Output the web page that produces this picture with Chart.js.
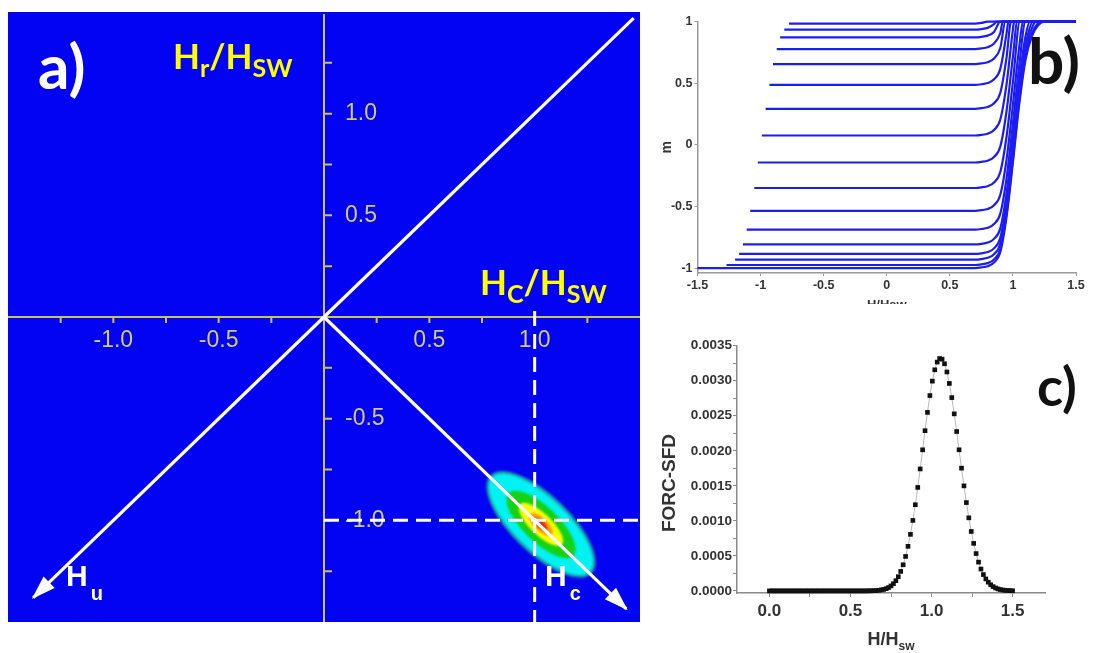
<!DOCTYPE html>
<html>
<head>
<meta charset="utf-8">
<script src="https://cdn.jsdelivr.net/npm/chart.js@4.4.1/dist/chart.umd.min.js"></script>
<style>
  html, body { margin: 0; padding: 0; background: #fff; }
  body { width: 1110px; height: 653px; position: relative; overflow: hidden; }
  #wrapA { position: absolute; left: 0; top: 0; }
  #wrapB { position: absolute; left: 650px; top: 0; width: 460px; height: 304px; overflow: hidden; }
  #wrapC { position: absolute; left: 650px; top: 305px; }
  canvas { display: block; }
</style>
</head>
<body>
<div id="wrapA"><canvas id="forcMap" width="650" height="653"></canvas></div>
<div id="wrapB"><canvas id="forcCurves" width="460" height="320"></canvas></div>
<div id="wrapC"><canvas id="sfdChart" width="460" height="348"></canvas></div>
<script>
// ---- a) FORC diagram (Hc/Hsw, Hr/Hsw) ----
const diagUp = [[0, 0], [1.47, 1.47]];
const arrowHu = [[0, 0], [-1.38, -1.38]];
const arrowHc = [[0, 0], [1.435, -1.435]];
const dashHc = [[1.0, 0.03], [1.0, -1.5]];
const dashHr = [[0, -1.0], [1.5, -1.0]];
const mapTicks = [-1.25, -1, -0.75, -0.5, -0.25, 0.25, 0.5, 0.75, 1, 1.25];
const mapXLabelVals = [-1, -0.5, 0.5, 1];
const mapXLabels = ['-1.0', '-0.5', '0.5', '1.0'];
const mapYLabelVals = [1, 0.5, -0.5, -1];
const mapYLabels = ['1.0', '0.5', '-0.5', '-1.0'];
// FORC density peak: centre and contour semi-axes (in field units)
const peakCenter = [1.03, -1.02];
const levelMajor = [0.335, 0.322, 0.214, 0.138, 0.071, 0.038];
const levelMinor = [0.138, 0.124, 0.083, 0.05, 0.031, 0.018];

// ---- b) first-order reversal curves (H/Hsw, m) ----
const forcBranches = [
  [[-0.775, 0.985], [0.70, 0.985], [0.75, 0.99], [0.80, 1.0], [1.5, 1.0]],
  [[-0.812, 0.935], [0.70, 0.935], [0.75, 0.94], [0.80, 0.95], [0.85, 0.98], [0.87, 1.0], [1.5, 1.0]],
  [[-0.845, 0.872], [0.70, 0.872], [0.75, 0.877], [0.80, 0.887], [0.85, 0.917], [0.90, 1.0], [1.5, 1.0]],
  [[-0.872, 0.778], [0.70, 0.778], [0.75, 0.783], [0.80, 0.793], [0.85, 0.823], [0.90, 0.908], [0.92, 1.0], [1.5, 1.0]],
  [[-0.902, 0.656], [0.70, 0.656], [0.75, 0.661], [0.80, 0.671], [0.85, 0.701], [0.90, 0.786], [0.94, 1.0], [1.5, 1.0]],
  [[-0.93, 0.487], [0.70, 0.487], [0.75, 0.492], [0.80, 0.502], [0.85, 0.532], [0.90, 0.617], [0.95, 0.907], [0.965, 1.0], [1.5, 1.0]],
  [[-0.96, 0.293], [0.70, 0.293], [0.75, 0.298], [0.80, 0.308], [0.85, 0.338], [0.90, 0.423], [0.95, 0.713], [0.985, 1.0], [1.5, 1.0]],
  [[-0.99, 0.076], [0.70, 0.076], [0.75, 0.081], [0.80, 0.091], [0.85, 0.121], [0.90, 0.206], [0.95, 0.496], [1.00, 0.936], [1.01, 1.0], [1.5, 1.0]],
  [[-1.022, -0.143], [0.70, -0.143], [0.75, -0.138], [0.80, -0.128], [0.85, -0.098], [0.90, -0.013], [0.95, 0.277], [1.00, 0.717], [1.035, 1.0], [1.5, 1.0]],
  [[-1.05, -0.35], [0.70, -0.35], [0.75, -0.345], [0.80, -0.335], [0.85, -0.305], [0.90, -0.22], [0.95, 0.07], [1.00, 0.51], [1.055, 1.0], [1.5, 1.0]],
  [[-1.082, -0.535], [0.70, -0.535], [0.75, -0.53], [0.80, -0.52], [0.85, -0.49], [0.90, -0.405], [0.95, -0.115], [1.00, 0.325], [1.05, 0.795], [1.08, 1.0], [1.5, 1.0]],
  [[-1.11, -0.688], [0.70, -0.688], [0.75, -0.683], [0.80, -0.673], [0.85, -0.643], [0.90, -0.558], [0.95, -0.268], [1.00, 0.172], [1.05, 0.642], [1.10, 1.0], [1.5, 1.0]],
  [[-1.14, -0.808], [0.70, -0.808], [0.75, -0.803], [0.80, -0.793], [0.85, -0.763], [0.90, -0.678], [0.95, -0.388], [1.00, 0.052], [1.05, 0.522], [1.10, 0.882], [1.135, 1.0], [1.5, 1.0]],
  [[-1.17, -0.885], [0.70, -0.885], [0.75, -0.88], [0.80, -0.87], [0.85, -0.84], [0.90, -0.755], [0.95, -0.465], [1.00, -0.025], [1.05, 0.445], [1.10, 0.805], [1.16, 1.0], [1.5, 1.0]],
  [[-1.202, -0.932], [0.70, -0.932], [0.75, -0.927], [0.80, -0.917], [0.85, -0.887], [0.90, -0.802], [0.95, -0.512], [1.00, -0.072], [1.05, 0.398], [1.10, 0.758], [1.15, 0.948], [1.185, 1.0], [1.5, 1.0]],
  [[-1.27, -0.975], [0.70, -0.975], [0.75, -0.97], [0.80, -0.96], [0.85, -0.93], [0.90, -0.845], [0.95, -0.555], [1.00, -0.115], [1.05, 0.355], [1.10, 0.715], [1.15, 0.905], [1.20, 0.99], [1.225, 1.0], [1.5, 1.0]],
  [[-1.5, -1.0], [0.70, -1.0], [0.75, -0.995], [0.80, -0.985], [0.85, -0.955], [0.90, -0.87], [0.95, -0.58], [1.00, -0.14], [1.05, 0.33], [1.10, 0.69], [1.15, 0.88], [1.20, 0.97], [1.25, 1.0], [1.5, 1.0]]
];
const forcXTicks = [-1.5, -1, -0.5, 0, 0.5, 1, 1.5];
const forcXTickLabels = ['-1.5', '-1', '-0.5', '0', '0.5', '1', '1.5'];
const forcYTicks = [-1, -0.5, 0, 0.5, 1];
const forcYTickLabels = ['-1', '-0.5', '0', '0.5', '1'];

// ---- c) switching field distribution ----
const sfdH = [0, 0.015, 0.03, 0.045, 0.06, 0.075, 0.09, 0.105, 0.12, 0.135, 0.15, 0.165, 0.18, 0.195, 0.21, 0.225, 0.24, 0.255, 0.27, 0.285,
  0.3, 0.315, 0.33, 0.345, 0.36, 0.375, 0.39, 0.405, 0.42, 0.435, 0.45, 0.465, 0.48, 0.495, 0.51, 0.525, 0.54, 0.555, 0.57, 0.585,
  0.6, 0.615, 0.63, 0.645, 0.66, 0.675, 0.69, 0.705, 0.72, 0.735, 0.75, 0.765, 0.78, 0.795, 0.81, 0.825, 0.84, 0.855, 0.87, 0.885,
  0.9, 0.915, 0.93, 0.945, 0.96, 0.975, 0.99, 1.005, 1.02, 1.035, 1.05, 1.065, 1.08, 1.095, 1.11, 1.125, 1.14, 1.155, 1.17, 1.185,
  1.2, 1.215, 1.23, 1.245, 1.26, 1.275, 1.29, 1.305, 1.32, 1.335, 1.35, 1.365, 1.38, 1.395, 1.41, 1.425, 1.44, 1.455, 1.47, 1.485, 1.5];
const sfdVal = [0, 0, 0, 0, 0, 0, 0, 0, 0, 0, 0, 0, 0, 0, 0, 0, 0, 0, 0, 0,
  0, 0, 0, 0, 0, 0, 0, 0, 0, 0, 0, 0, 0, 0, 0, 0, 0, 0, 0, 0,
  0.000001, 0.000001, 0.000002, 0.000003, 0.000005, 0.000009, 0.000014, 0.000021, 0.000032, 0.000048,
  0.000071, 0.000103, 0.000146, 0.000203, 0.000278, 0.000373, 0.000492, 0.000636, 0.000807, 0.001006,
  0.00123, 0.001477, 0.001741, 0.002014, 0.002287, 0.002548, 0.002788, 0.002994, 0.003156, 0.003266,
  0.003317, 0.003307, 0.003242, 0.003125, 0.002961, 0.002759, 0.002527, 0.002275, 0.002014, 0.001752,
  0.001499, 0.001261, 0.001043, 0.000848, 0.000678, 0.000533, 0.000411, 0.000312, 0.000233, 0.000171,
  0.000124, 0.000088, 0.000061, 0.000042, 0.000028, 0.000019, 0.000012, 0.000008, 0.000005, 0.000003, 0.000002];
const sfdXTicks = [0, 0.25, 0.5, 0.75, 1, 1.25, 1.5];
const sfdXTickLabels = ['0.0', '', '0.5', '', '1.0', '', '1.5'];
const sfdYTicks = [0, 0.00025, 0.0005, 0.00075, 0.001, 0.00125, 0.0015, 0.00175, 0.002, 0.00225, 0.0025, 0.00275, 0.003, 0.00325, 0.0035];
const sfdYTickLabels = ['0.0000', '', '0.0005', '', '0.0010', '', '0.0015', '', '0.0020', '', '0.0025', '', '0.0030', '', '0.0035'];

const ARIAL = '"Liberation Sans", Arial, sans-serif';
const CALIB = 'Lato, "Open Sans", sans-serif';
const toXY = pts => pts.map(([x, y]) => ({ x, y }));

// draws text pieces side by side (for subscripts)
function drawRich(ctx, x, y, color, parts, align) {
  ctx.save();
  ctx.fillStyle = color;
  ctx.textAlign = 'left';
  ctx.textBaseline = 'alphabetic';
  let total = 0;
  parts.forEach(p => { ctx.font = p[1]; total += ctx.measureText(p[0]).width + (p[3] || 0); });
  let cx = align === 'center' ? x - total / 2 : x;
  parts.forEach(p => {
    ctx.font = p[1];
    cx += p[3] || 0;
    ctx.fillText(p[0], cx, y + p[2]);
    cx += ctx.measureText(p[0]).width;
  });
  ctx.restore();
}

const mapDecor = {
  id: 'mapDecor',
  beforeDraw(chart) {
    const { ctx, chartArea: a } = chart;
    ctx.save();
    ctx.fillStyle = '#ffffff';
    ctx.fillRect(0, 0, chart.width, chart.height);
    ctx.fillStyle = 'rgb(3,3,243)';
    ctx.fillRect(a.left, a.top, a.right - a.left, a.bottom - a.top);
    ctx.restore();
  },
  beforeDatasetsDraw(chart) {
    const { ctx, chartArea: a, scales: { x, y } } = chart;
    const x0 = x.getPixelForValue(0), y0 = y.getPixelForValue(0);
    ctx.save();
    // yellow axes through the origin
    ctx.strokeStyle = '#c9c257';
    ctx.lineWidth = 2;
    ctx.beginPath();
    ctx.moveTo(a.left, y0); ctx.lineTo(a.right, y0);
    ctx.moveTo(x0, a.top + 2); ctx.lineTo(x0, a.bottom);
    mapTicks.forEach(v => {
      const px = x.getPixelForValue(v);
      ctx.moveTo(px, y0); ctx.lineTo(px, y0 + 6);
      const py = y.getPixelForValue(v);
      ctx.moveTo(x0, py); ctx.lineTo(x0 + 8, py);
    });
    ctx.stroke();
    ctx.fillStyle = '#d2cb6c';
    ctx.font = '23px ' + ARIAL;
    ctx.textBaseline = 'middle';
    ctx.textAlign = 'center';
    mapXLabelVals.forEach((v, i) => ctx.fillText(mapXLabels[i], x.getPixelForValue(v), y0 + 24));
    ctx.textAlign = 'left';
    mapYLabelVals.forEach((v, i) => ctx.fillText(mapYLabels[i], x0 + 21, y.getPixelForValue(v)));

    // contour levels of the FORC density
    const cx = x.getPixelForValue(peakCenter[0]), cy = y.getPixelForValue(peakCenter[1]);
    const ang = Math.atan2(y.getPixelForValue(-1) - y0, x.getPixelForValue(1) - x0);
    const unit = x.getPixelForValue(1) - x0;
    const levelColors = ['#1a9aa6', '#00f2f2', '#14d214', '#ffff00', '#ff9a00', '#e02a14'];
    ctx.filter = 'blur(1.2px)';
    levelMajor.forEach((m, i) => {
      ctx.fillStyle = levelColors[i];
      ctx.beginPath();
      ctx.ellipse(cx, cy, m * unit, levelMinor[i] * unit, ang, 0, Math.PI * 2);
      ctx.fill();
    });
    ctx.restore();
  },
  afterDatasetsDraw(chart) {
    const { ctx } = chart;
    ctx.save();
    // arrow heads at the ends of the Hu / Hc axes
    chart.data.datasets.forEach((ds, i) => {
      if (!ds.arrowHead) return;
      const pts = chart.getDatasetMeta(i).data;
      const tip = pts[pts.length - 1], prev = pts[pts.length - 2];
      const ang = Math.atan2(tip.y - prev.y, tip.x - prev.x);
      const L = 22, W = 8;
      const bx = tip.x - L * Math.cos(ang), by = tip.y - L * Math.sin(ang);
      ctx.fillStyle = '#ffffff';
      ctx.beginPath();
      ctx.moveTo(tip.x + 2 * Math.cos(ang), tip.y + 2 * Math.sin(ang));
      ctx.lineTo(bx + W * Math.sin(ang), by - W * Math.cos(ang));
      ctx.lineTo(bx - W * Math.sin(ang), by + W * Math.cos(ang));
      ctx.closePath();
      ctx.fill();
    });
    ctx.restore();

    ctx.save();
    ctx.fillStyle = '#ffffff';
    ctx.font = 'bold 62px ' + CALIB;
    ctx.textBaseline = 'alphabetic';
    ctx.fillText('a)', 38, 89);
    ctx.restore();
    const big = 'bold 35px ' + CALIB, small = 'bold 25px ' + CALIB;
    drawRich(ctx, 173, 69, '#ffff00', [['H', big, 0], ['r', small, 8], ['/H', big, 0], ['SW', small, 8]]);
    drawRich(ctx, 480, 295, '#ffff00', [['H', big, 0], ['C', small, 8], ['/H', big, 0], ['SW', small, 8]]);
    const hb = 'bold 30px ' + ARIAL, hs = 'bold 20px ' + ARIAL;
    drawRich(ctx, 66, 586, '#ffffff', [['H', hb, 0], ['u', hs, 14, 3]]);
    drawRich(ctx, 545, 586, '#ffffff', [['H', hb, 0], ['c', hs, 14, 3]]);
  }
};

const whiteLine = { showLine: true, borderColor: '#ffffff', borderWidth: 3.2, pointRadius: 0, clip: false };
new Chart(document.getElementById('forcMap'), {
  type: 'scatter',
  data: {
    datasets: [
      Object.assign({ data: toXY(diagUp) }, whiteLine),
      Object.assign({ data: toXY(arrowHu), arrowHead: true }, whiteLine),
      Object.assign({ data: toXY(arrowHc), arrowHead: true }, whiteLine),
      Object.assign({ data: toXY(dashHc) }, whiteLine, { borderWidth: 3, borderDash: [15, 8] }),
      Object.assign({ data: toXY(dashHr) }, whiteLine, { borderWidth: 3, borderDash: [15, 8] })
    ]
  },
  options: {
    responsive: false,
    animation: false,
    layout: { padding: { left: 8, top: 12, right: 10, bottom: 31 } },
    plugins: { legend: { display: false }, tooltip: { enabled: false } },
    scales: {
      x: { type: 'linear', min: -1.5, max: 1.5, display: false },
      y: { type: 'linear', min: -1.5, max: 1.5, display: false }
    }
  },
  plugins: [mapDecor]
});

// ---- b) ----
const curveDecor = {
  id: 'curveDecor',
  afterDraw(chart) {
    const { ctx, chartArea: a } = chart;
    ctx.save();
    ctx.fillStyle = '#111';
    ctx.font = 'bold 64px ' + CALIB;
    ctx.fillText('b)', 378, 84);
    ctx.fillStyle = '#333';
    ctx.font = 'bold 14px ' + ARIAL;
    ctx.textAlign = 'center';
    ctx.textBaseline = 'middle';
    ctx.translate(17, (a.top + a.bottom) / 2);
    ctx.rotate(-Math.PI / 2);
    ctx.fillText('m', 0, 0);
    ctx.restore();
    drawRich(ctx, (a.left + a.right) / 2, 309, '#333', [['H/Hsw', 'bold 13px ' + ARIAL, 0]], 'center');
  }
};

const tickFontB = { family: ARIAL, weight: 'bold', size: 12.5 };
new Chart(document.getElementById('forcCurves'), {
  type: 'scatter',
  data: {
    datasets: forcBranches.map(br => ({
      data: toXY(br),
      showLine: true,
      borderColor: 'rgb(28,28,245)',
      borderWidth: 2.2,
      pointRadius: 0,
      cubicInterpolationMode: 'monotone',
      clip: 6
    }))
  },
  options: {
    responsive: false,
    animation: false,
    layout: { padding: { left: 0, top: 21.7, right: 34, bottom: 0 } },
    plugins: { legend: { display: false }, tooltip: { enabled: false } },
    scales: {
      x: {
        type: 'linear', min: -1.5, max: 1.5,
        afterBuildTicks: s => { s.ticks = forcXTicks.map(v => ({ value: v })); },
        afterFit: s => { s.height = 47; },
        grid: { drawOnChartArea: false, tickLength: 3, color: '#9a9a9a' },
        border: { color: '#9a9a9a', width: 1.5 },
        ticks: { callback: (v, i) => forcXTickLabels[i], font: tickFontB, color: '#333', padding: 2, maxRotation: 0, autoSkip: false }
      },
      y: {
        type: 'linear', min: -1.04, max: 1.0,
        afterBuildTicks: s => { s.ticks = forcYTicks.map(v => ({ value: v })); },
        afterFit: s => { s.width = 47.5; },
        grid: { drawOnChartArea: false, tickLength: 3, color: '#9a9a9a' },
        border: { color: '#9a9a9a', width: 1.5 },
        ticks: { callback: (v, i) => forcYTickLabels[i], font: tickFontB, color: '#333', padding: 2, autoSkip: false }
      }
    }
  },
  plugins: [curveDecor]
});

// ---- c) ----
const sfdDecor = {
  id: 'sfdDecor',
  afterDraw(chart) {
    const { ctx, chartArea: a } = chart;
    ctx.save();
    ctx.fillStyle = '#111';
    ctx.font = 'bold 54px ' + CALIB;
    ctx.fillText('c)', 387, 101);
    ctx.fillStyle = '#333';
    ctx.font = 'bold 19px ' + ARIAL;
    ctx.textAlign = 'center';
    ctx.textBaseline = 'middle';
    ctx.translate(20, 178);
    ctx.rotate(-Math.PI / 2);
    ctx.fillText('FORC-SFD', 0, 0);
    ctx.restore();
    drawRich(ctx, (a.left + a.right) / 2, 340, '#333',
      [['H/H', 'bold 18px ' + ARIAL, 0], ['sw', 'bold 12px ' + ARIAL, 5]], 'center');
  }
};

new Chart(document.getElementById('sfdChart'), {
  type: 'scatter',
  data: {
    datasets: [{
      data: sfdH.map((h, i) => ({ x: h, y: sfdVal[i] })),
      showLine: true,
      borderColor: '#b8b8b8',
      borderWidth: 1,
      pointStyle: 'rect',
      pointRadius: 3.3,
      pointBackgroundColor: '#111',
      pointBorderWidth: 0,
      clip: false
    }]
  },
  options: {
    responsive: false,
    animation: false,
    layout: { padding: { left: 0, top: 40.7, right: 65, bottom: 0 } },
    plugins: { legend: { display: false }, tooltip: { enabled: false } },
    scales: {
      x: {
        type: 'linear', min: -0.2, max: 1.7,
        afterBuildTicks: s => { s.ticks = sfdXTicks.map(v => ({ value: v })); },
        afterFit: s => { s.height = 60; },
        grid: { drawOnChartArea: false, tickLength: 4, color: '#8a8a8a' },
        border: { color: '#8a8a8a', width: 1.5 },
        ticks: { callback: (v, i) => sfdXTickLabels[i], font: { family: ARIAL, weight: 'bold', size: 17 }, color: '#333', padding: 4, maxRotation: 0, autoSkip: false }
      },
      y: {
        type: 'linear', min: -0.00003, max: 0.0035,
        afterBuildTicks: s => { s.ticks = sfdYTicks.map(v => ({ value: v })); },
        afterFit: s => { s.width = 87; },
        grid: { drawOnChartArea: false, tickLength: 4, color: '#8a8a8a' },
        border: { color: '#8a8a8a', width: 1.5 },
        ticks: { callback: (v, i) => sfdYTickLabels[i], font: { family: ARIAL, weight: 'bold', size: 13.5 }, color: '#333', padding: 1, autoSkip: false }
      }
    }
  },
  plugins: [sfdDecor]
});
</script>
</body>
</html>
